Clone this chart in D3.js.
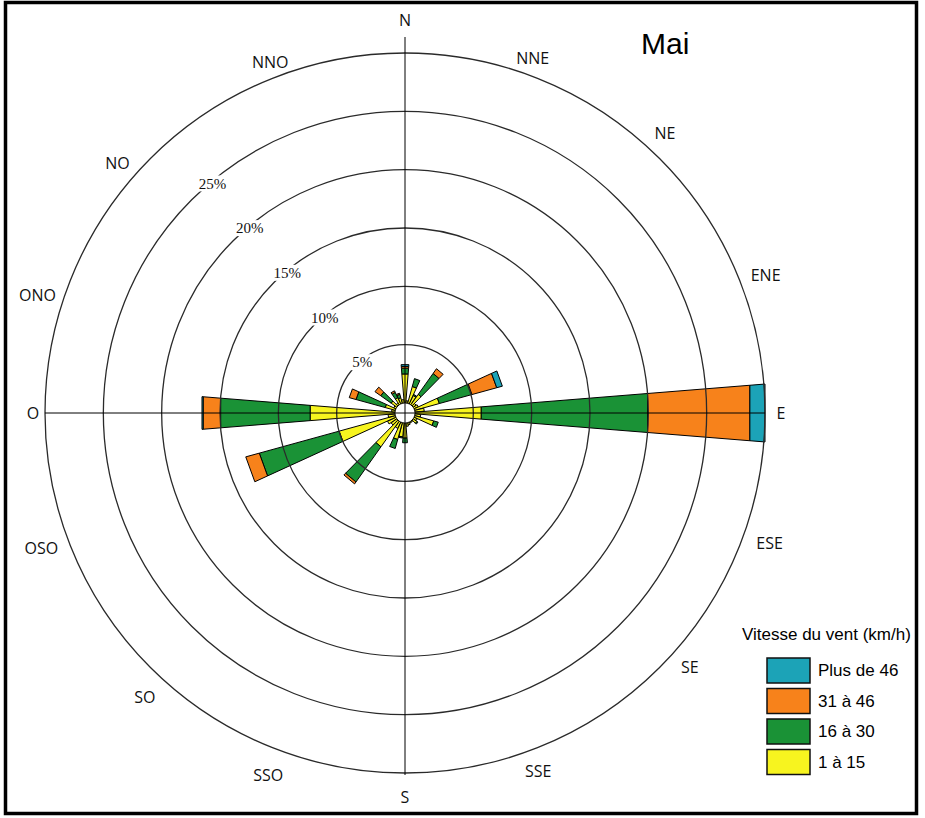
<!DOCTYPE html>
<html>
<head>
<meta charset="utf-8">
<script src="https://cdn.jsdelivr.net/npm/d3@7"></script>
<style>
  body { margin: 0; background: #fff; }
  svg { display: block; }
</style>
</head>
<body>
<svg id="rose"></svg>
<script>
// wind direction in degrees (10 degree classes), % of hours
const directions = [0, 10, 20, 30, 40, 50, 60, 70, 80, 90, 100, 110, 120, 130, 140, 150, 160, 170,
  180, 190, 200, 210, 220, 230, 240, 250, 260, 270, 280, 290, 300, 310, 320, 330, 340, 350];
const speed1to15 = [2.5, 0.2, 1.5, 0.8, 1.1, 0.3, 0.4, 2.2, 0.8, 5.7, 0.5, 1.7, 0.3, 0.4, 0.1, 0.1, 0.2, 0.3,
  1.3, 1.2, 1.5, 0.6, 2.7, 0.6, 0.8, 5.0, 0.6, 7.3, 0.3, 0.9, 0.2, 0.6, 0.2, 0.6, 0.5, 0.3];
const speed16to30 = [0.5, 0, 0.7, 0.1, 2.2, 0, 0, 2.9, 0, 14.3, 0, 0.4, 0, 0.1, 0, 0, 0, 0,
  0.4, 0.1, 0.8, 0, 3.7, 0, 0, 7.1, 0, 7.7, 0, 2.6, 0, 1.1, 0, 0.5, 0.3, 0];
const speed31to46 = [0.15, 0, 0, 0, 0.5, 0, 0, 2.2, 0, 8.8, 0, 0, 0, 0, 0, 0, 0, 0,
  0, 0, 0, 0, 0.2, 0, 0, 1.2, 0, 1.5, 0, 0.6, 0, 0.6, 0, 0.15, 0.1, 0];
const speedOver46 = [0.15, 0, 0, 0, 0, 0, 0, 0.5, 0, 1.3, 0, 0, 0, 0, 0, 0, 0, 0,
  0, 0, 0, 0, 0, 0, 0, 0, 0, 0.1, 0, 0, 0, 0, 0, 0, 0, 0];

const speedClasses = ["1 à 15", "16 à 30", "31 à 46", "Plus de 46"];
const classColors = ["#f7f41f", "#1a9236", "#f7821b", "#1ca3b7"];
const ringTicks = [5, 10, 15, 20, 25, 30];
const ringLabels = ["5%", "10%", "15%", "20%", "25%"];
const compass = ["N", "NNE", "NE", "ENE", "E", "ESE", "SE", "SSE",
  "S", "SSO", "SO", "OSO", "O", "ONO", "NO", "NNO"];
// where the original puts each compass label (bearing, distance from centre)
const compassBearing = [0, 19.8, 42.9, 69.1, 90, 109.6, 131.8, 159.6,
  180, 200.7, 222.5, 249.6, 270, 287.8, 311, 339];
const compassDist = [393, 377, 382, 386, 376, 387, 382, 382,
  384, 387, 385, 388, 372, 386, 381, 376];

const width = 925;
const height = 818;
const cx = 405;
const cy = 413;
const maxPct = 30;
const outerR = 360;
const holeR = 10;
const barHalf = 4.6 * Math.PI / 180;

const svg = d3.select("#rose").attr("width", width).attr("height", height);

const keys = ["s1", "s2", "s3", "s4"];
const rows = directions.map((d, i) => ({
  dir: d,
  s1: speed1to15[i],
  s2: speed16to30[i],
  s3: speed31to46[i],
  s4: speedOver46[i],
}));
const series = d3.stack().keys(keys)(rows);

const r = d3.scaleLinear().domain([0, maxPct]).range([holeR, outerR]);
const color = d3.scaleOrdinal(keys, classColors);
const rad = (deg) => (deg * Math.PI) / 180;
const polar = (radius, ang) => [radius * Math.sin(ang), -radius * Math.cos(ang)];

function wedge(dir, v0, v1) {
  const t = rad(dir);
  const pts = [
    polar(r(v0), t - barHalf),
    polar(r(v1), t - barHalf),
    polar(r(v1), t + barHalf),
    polar(r(v0), t + barHalf),
  ];
  return d3.line()(pts) + "Z";
}

const g = svg.append("g").attr("transform", `translate(${cx},${cy})`);

// bars
g.append("g")
  .selectAll("g")
  .data(series)
  .join("g")
  .attr("fill", (s) => color(s.key))
  .selectAll("path")
  .data((s) => s.filter((d) => d[1] - d[0] > 0))
  .join("path")
  .attr("d", (d) => wedge(d.data.dir, d[0], d[1]))
  .attr("stroke", "#000")
  .attr("stroke-width", 1)
  .attr("stroke-linejoin", "miter");

// rings, drawn over bars like in the original
g.append("g")
  .selectAll("circle")
  .data(ringTicks)
  .join("circle")
  .attr("r", (d) => r(d))
  .attr("fill", "none")
  .attr("stroke", "#2a2a2a")
  .attr("stroke-width", 1.3);

// axes
g.append("line")
  .attr("x1", 0).attr("x2", 0)
  .attr("y1", -outerR - 16).attr("y2", outerR + 2)
  .attr("stroke", "#000").attr("stroke-width", 1);
g.append("line")
  .attr("x1", -outerR).attr("x2", outerR)
  .attr("y1", 0).attr("y2", 0)
  .attr("stroke", "#000").attr("stroke-width", 1);

// ring labels at 320 degrees, with a white patch breaking the ring
const ringLab = g.append("g")
  .selectAll("g")
  .data(ringLabels)
  .join("g")
  .attr("transform", (d, i) => {
    const [x, y] = polar(r(ringTicks[i]) - 2, rad(320));
    return `translate(${x},${y})`;
  });
ringLab.append("rect")
  .attr("x", -18).attr("y", -8).attr("width", 36).attr("height", 16)
  .attr("fill", "#fff");
ringLab.append("text")
  .attr("text-anchor", "middle")
  .attr("dy", "0.35em")
  .attr("font-family", "'Liberation Serif', 'Times New Roman', serif")
  .attr("font-size", 15)
  .attr("fill", "#111")
  .text((d) => d);

// compass points
g.append("g")
  .selectAll("text")
  .data(compass)
  .join("text")
  .attr("x", (d, i) => polar(compassDist[i], rad(compassBearing[i]))[0])
  .attr("y", (d, i) => polar(compassDist[i], rad(compassBearing[i]))[1])
  .attr("text-anchor", "middle")
  .attr("dy", "0.36em")
  .attr("font-family", "'Open Sans', sans-serif")
  .attr("font-size", 16)
  .attr("fill", "#111")
  .text((d) => d);

// title
svg.append("text")
  .attr("x", 641)
  .attr("y", 54)
  .attr("font-family", "'Liberation Sans', Arial, sans-serif")
  .attr("font-size", 30)
  .text("Mai");

// legend
const legend = svg.append("g").attr("transform", "translate(742,640)");
legend.append("text")
  .attr("x", 0).attr("y", 0)
  .attr("font-family", "'Liberation Sans', Arial, sans-serif")
  .attr("font-size", 17)
  .text("Vitesse du vent (km/h)");
const item = legend.selectAll("g.item")
  .data(speedClasses.slice().reverse())
  .join("g")
  .attr("class", "item")
  .attr("transform", (d, i) => `translate(25,${18 + i * 30.5})`);
item.append("rect")
  .attr("width", 43).attr("height", 25)
  .attr("fill", (d) => color(keys[speedClasses.indexOf(d)]))
  .attr("stroke", "#111").attr("stroke-width", 1.5);
item.append("text")
  .attr("x", 51).attr("y", 18)
  .attr("font-family", "'Liberation Sans', Arial, sans-serif")
  .attr("font-size", 17)
  .text((d) => d);

// frame
svg.append("rect")
  .attr("x", 5.5).attr("y", 2.5)
  .attr("width", 911).attr("height", 811)
  .attr("fill", "none")
  .attr("stroke", "#000")
  .attr("stroke-width", 3.5);
</script>
</body>
</html>
